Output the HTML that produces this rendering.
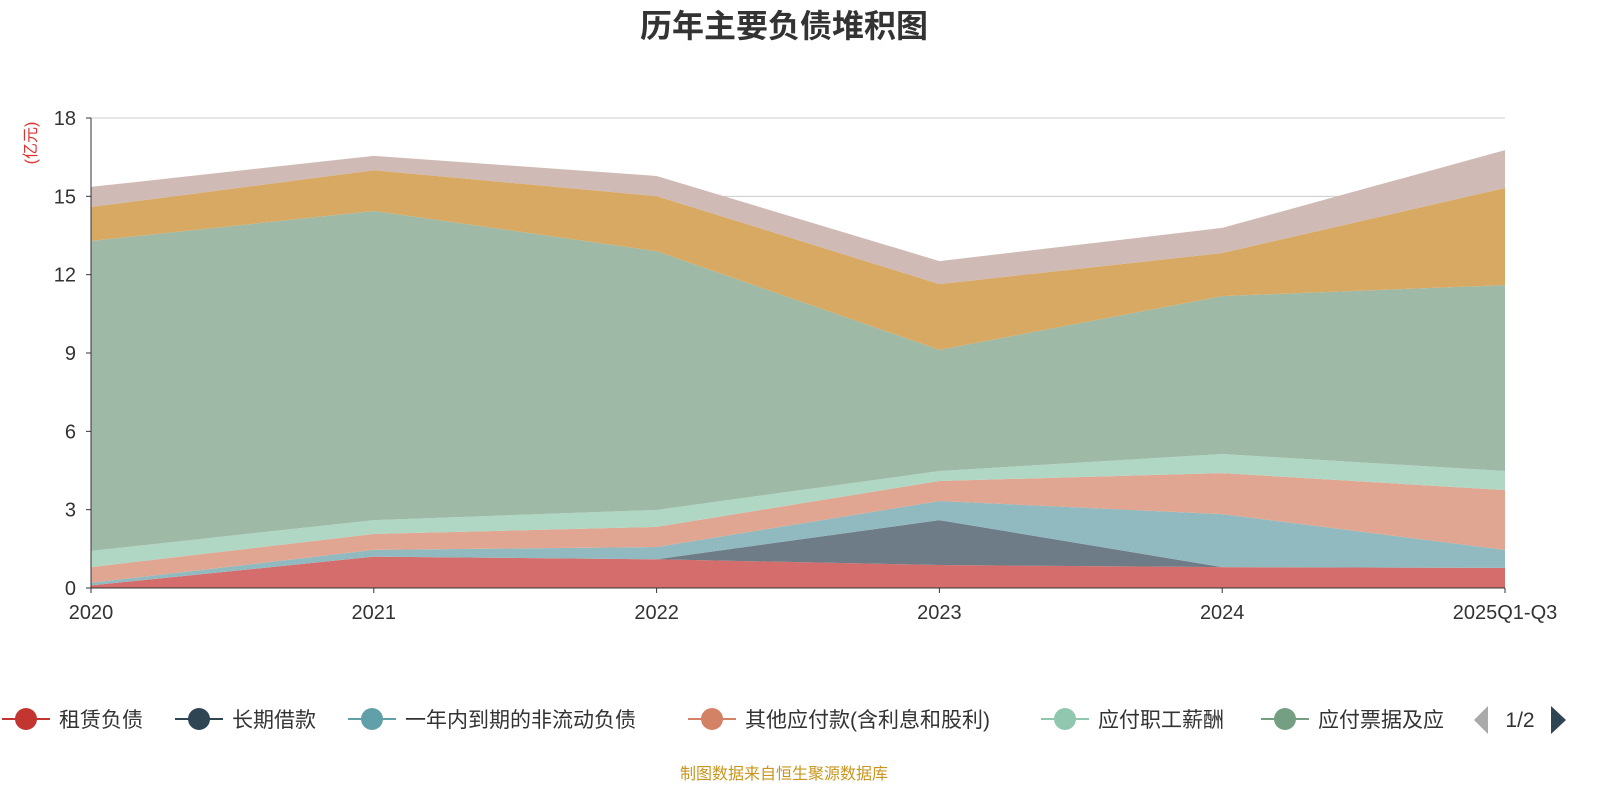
<!DOCTYPE html>
<html><head><meta charset="utf-8"><style>
body{margin:0;background:#fff;}
svg{display:block;font-family:"Liberation Sans","Noto Sans CJK SC",sans-serif;}
</style></head><body>
<svg id="chart" width="1600" height="800">
<text x="784" y="37" text-anchor="middle" font-size="32" font-weight="bold" fill="#333">历年主要负债堆积图</text>
<text transform="translate(36,143) rotate(-90)" text-anchor="middle" font-size="16" fill="#e03030">(亿元)</text>
<g id="grid"></g><g id="areas"></g><g id="axes"></g>
<g id="legend"></g>
<text x="784" y="779" text-anchor="middle" font-size="16" fill="#c8961e">制图数据来自恒生聚源数据库</text>
</svg>
<script>
const categories=["2020","2021","2022","2023","2024","2025Q1-Q3"];
const yTicks=[0,3,6,9,12,15,18];
const seriesNames=["租赁负债","长期借款","一年内到期的非流动负债","其他应付款(含利息和股利)","应付职工薪酬","应付票据及应付账款","合同负债","其他"];
const s0=[0.1,1.2,1.1,0.88,0.8,0.77];
const s1=[0,0,0,1.72,0,0];
const s2=[0.1,0.26,0.47,0.73,2.03,0.69];
const s3=[0.6,0.61,0.77,0.77,1.57,2.29];
const s4=[0.62,0.53,0.65,0.38,0.73,0.73];
const s5=[11.87,11.84,9.91,4.64,6.05,7.12];
const s6=[1.3,1.56,2.11,2.52,1.65,3.72];
const s7=[0.77,0.55,0.77,0.88,0.96,1.45];
const seriesValues=[s0,s1,s2,s3,s4,s5,s6,s7];
const fills=["#d46d6b","#6e7c87","#91bac0","#e0a691","#b0d6c4","#9eb9a6","#d8a963","#cfbab5"];
const legendColors=["#c23531","#2f4554","#61a0a8","#d48265","#91c7ae","#749f83"];
const NS="http://www.w3.org/2000/svg";
const X0=91,X1=1505,Y0=588,Y1=118;
const xs=i=>X0+(X1-X0)*i/(categories.length-1);
const ys=v=>Y0-(Y0-Y1)*v/18;
function mk(t,a,p){const e=document.createElementNS(NS,t);for(const k in a)e.setAttribute(k,a[k]);p.appendChild(e);return e;}
const grid=document.getElementById('grid'),areas=document.getElementById('areas'),axes=document.getElementById('axes'),legend=document.getElementById('legend');
yTicks.forEach(v=>{
 if(v>0){const l=mk('line',{x1:X0,x2:X1,y1:ys(v),y2:ys(v),stroke:'#ccc'},grid);
 
 }
 const t=mk('text',{x:76,y:ys(v)+7,'text-anchor':'end','font-size':20,fill:'#333'},axes);t.textContent=v;
 
 
 mk('line',{x1:X0-5,x2:X0,y1:ys(v),y2:ys(v),stroke:'#333'},axes);
});
let base=categories.map(()=>0);
seriesValues.forEach((vals,si)=>{
 const top=base.map((b,i)=>b+vals[i]);
 let d='M'+top.map((v,i)=>xs(i)+','+ys(v)).join('L');
 for(let i=categories.length-1;i>=0;i--)d+='L'+xs(i)+','+ys(base[i]);
 const p=mk('path',{d:d+'Z',fill:fills[si]},areas);
 
 
 base=top;
});
mk('line',{x1:X0,x2:X0,y1:Y1,y2:Y0,stroke:'#333'},axes);
mk('line',{x1:X0,x2:X1,y1:Y0,y2:Y0,stroke:'#333'},axes);
categories.forEach((c,i)=>{
 mk('line',{x1:xs(i),x2:xs(i),y1:Y0,y2:Y0+5,stroke:'#333'},axes);
 const t=mk('text',{x:xs(i),y:619,'text-anchor':'middle','font-size':20,fill:'#333'},axes);t.textContent=c;
 
 
});
const lx=[2,175,348,688,1041,1261];
lx.forEach((x,i)=>{
 const g=mk('g',{},legend);
 
 
 mk('line',{x1:x,x2:x+48,y1:719,y2:719,stroke:legendColors[i],'stroke-width':2},g);
 mk('circle',{cx:x+24,cy:719,r:11,fill:legendColors[i]},g);
 const t=mk('text',{x:x+57,y:727,'font-size':21,fill:'#333'},g);
 t.textContent=i===5?'应付票据及应':seriesNames[i];
});
const pl=mk('path',{d:'M1488,706L1488,734L1474,720Z',fill:'#aaa'},legend);


const pt=mk('text',{x:1520,y:727,'text-anchor':'middle','font-size':21,fill:'#333'},legend);pt.textContent='1/2';


const pn=mk('path',{d:'M1551,706L1551,734L1566,720Z',fill:'#2f4554'},legend);


</script>
</body></html>
